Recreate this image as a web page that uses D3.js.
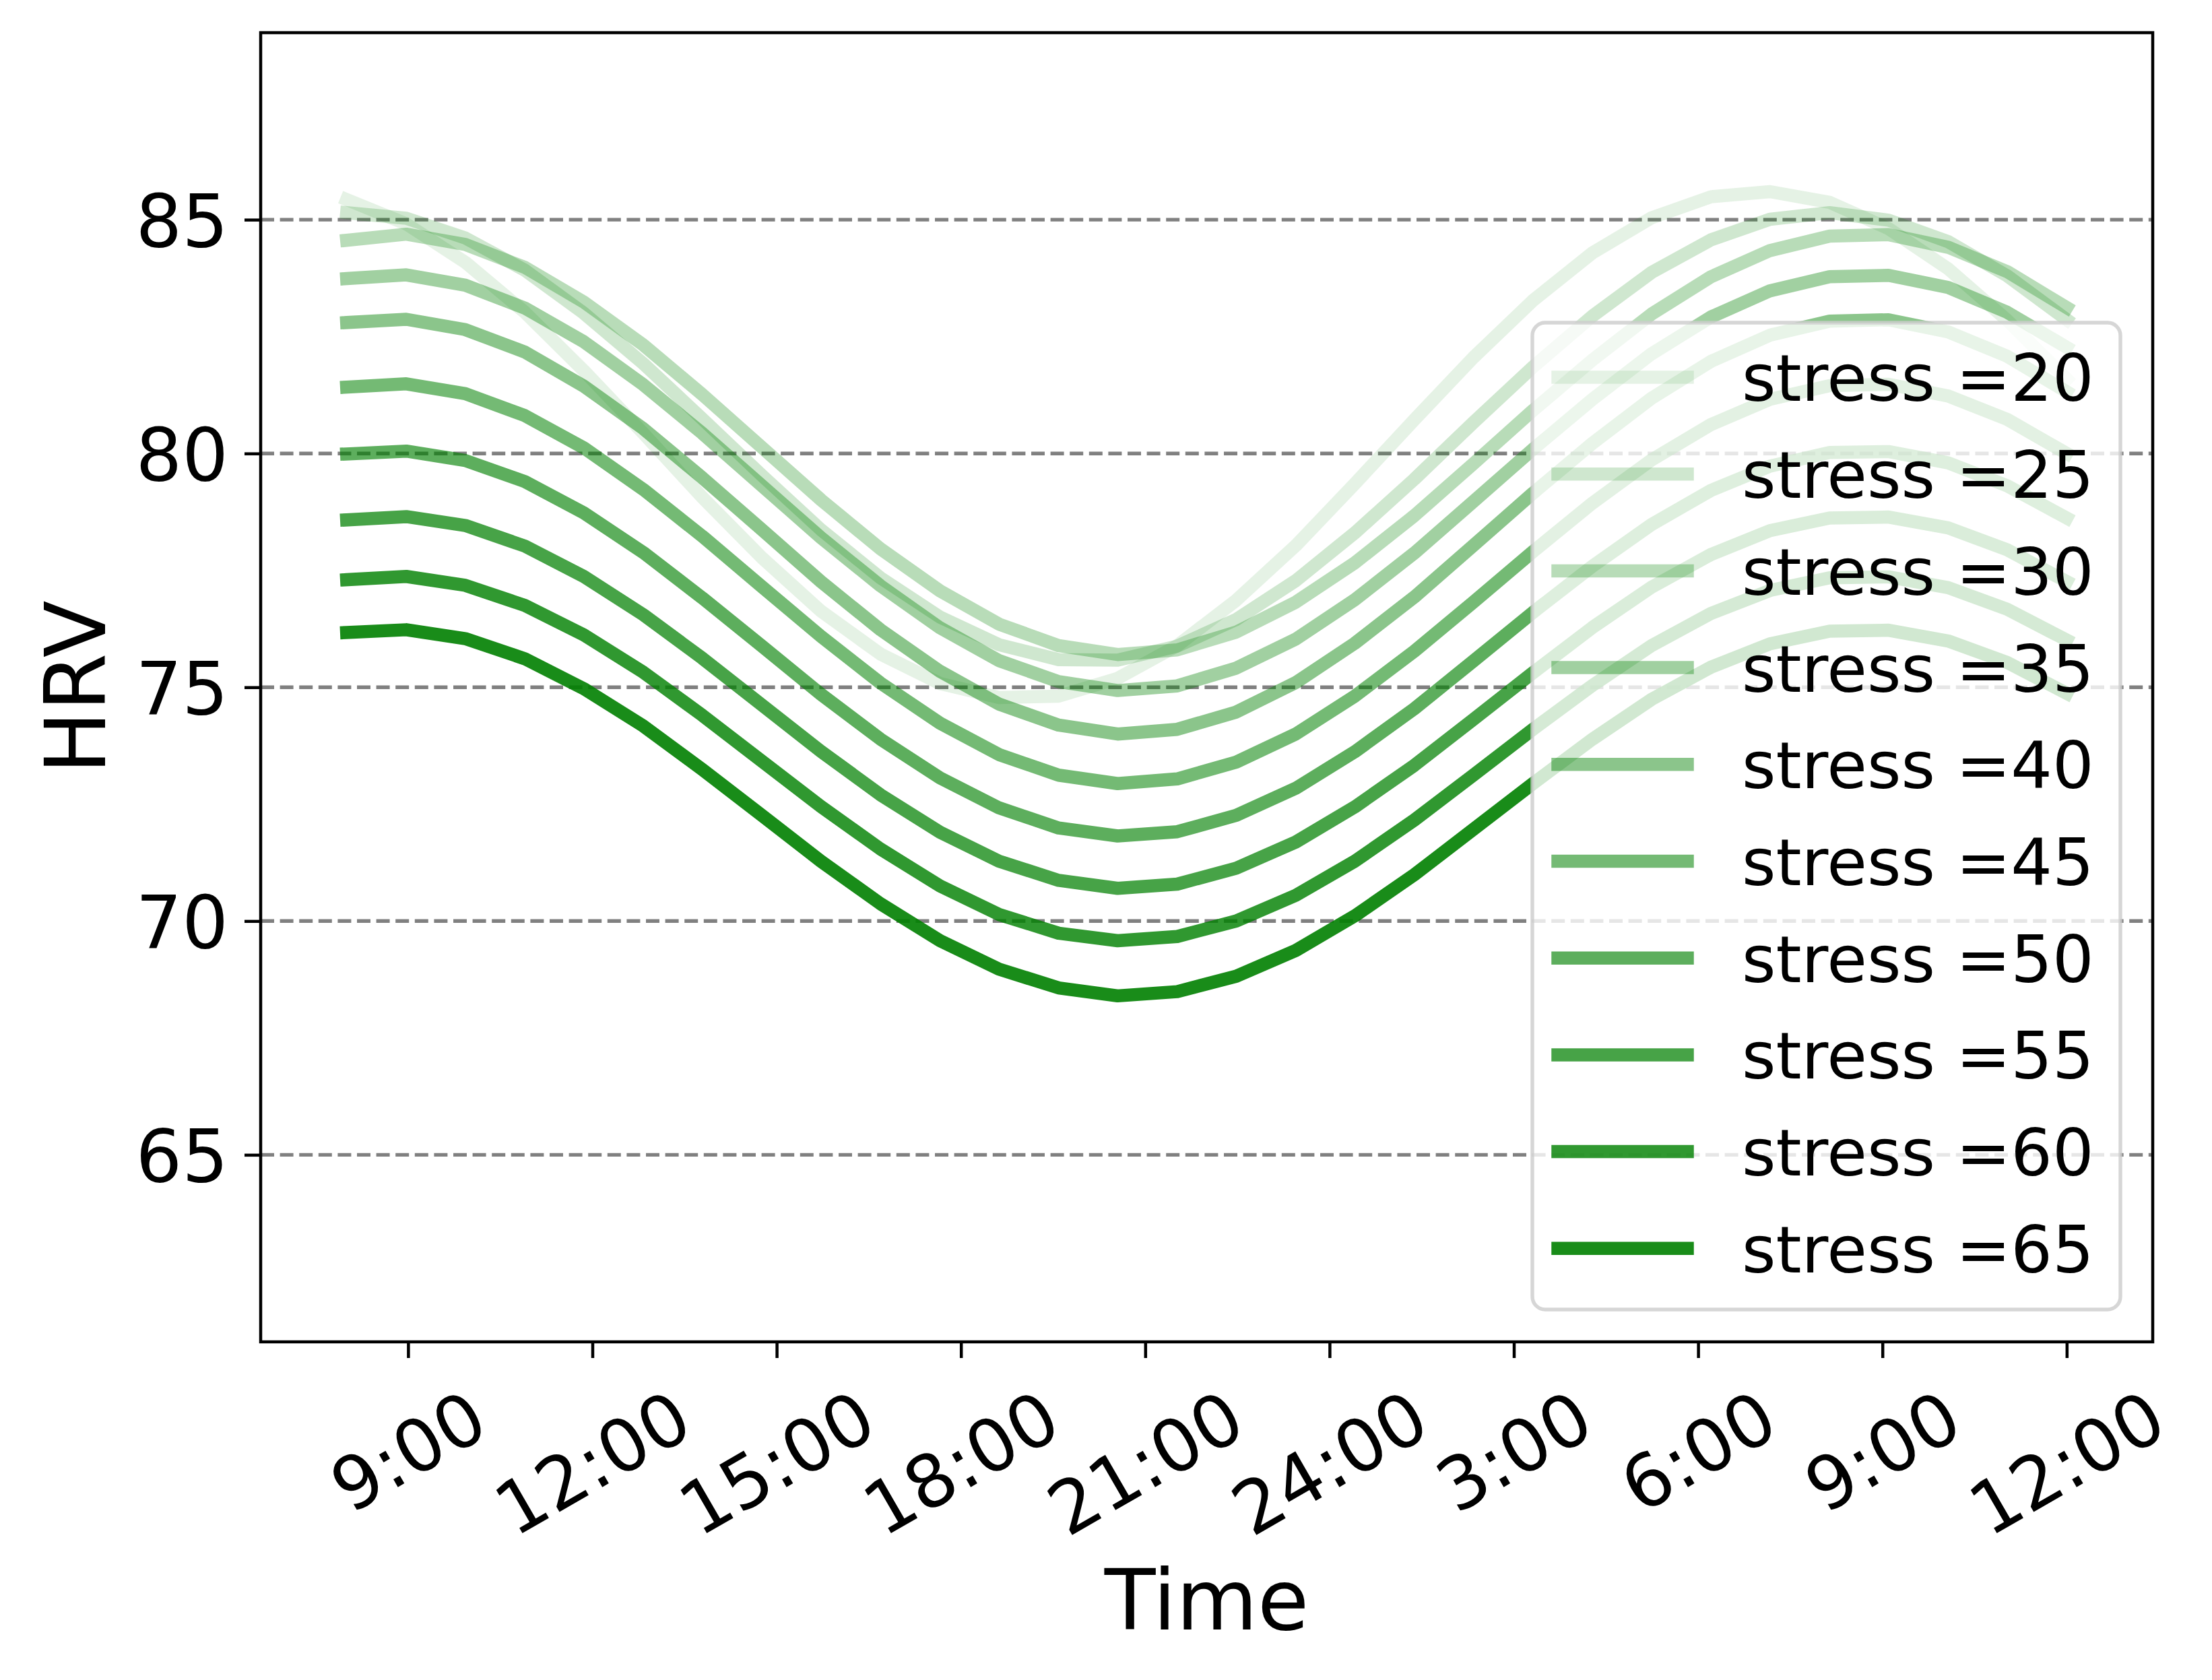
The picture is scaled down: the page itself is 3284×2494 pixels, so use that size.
<!DOCTYPE html>
<html>
<head>
<meta charset="utf-8">
<script src="https://cdn.jsdelivr.net/npm/d3@7"></script>
<style>
html, body { margin: 0; padding: 0; background: #ffffff; }
svg { display: block; font-family: "DejaVu Sans", sans-serif; }
</style>
</head>
<body>
<svg id="chart" width="3284" height="2494"></svg>
<script>
// ---------------- data ----------------
const times = [8.00, 8.97, 9.93, 10.90, 11.86, 12.83, 13.79, 14.76, 15.72, 16.69,
               17.66, 18.62, 19.59, 20.55, 21.52, 22.48, 23.45, 24.41, 25.38, 26.34,
               27.31, 28.28, 29.24, 30.21, 31.17, 32.14, 33.10, 34.07, 35.03, 36.00];

const stressLevels = [20, 25, 30, 35, 40, 45, 50, 55, 60, 65];

const hrv20 = [85.43, 84.91, 84.09, 83.02, 81.77, 80.43, 79.06, 77.77, 76.63, 75.71,
               75.08, 74.78, 74.81, 75.19, 75.89, 76.86, 78.03, 79.35, 80.72, 82.05,
               83.27, 84.29, 85.04, 85.49, 85.60, 85.37, 84.81, 83.95, 82.85, 81.59];
const hrv25 = [85.15, 85.03, 84.61, 83.92, 83.00, 81.92, 80.74, 79.53, 78.37, 77.34,
               76.50, 75.91, 75.59, 75.58, 75.88, 76.45, 77.28, 78.30, 79.45, 80.66,
               81.85, 82.94, 83.87, 84.57, 85.01, 85.15, 84.99, 84.53, 83.80, 82.86];
const hrv30 = [84.56, 84.69, 84.47, 83.98, 83.24, 82.32, 81.26, 80.13, 79.01, 77.96,
               77.06, 76.35, 75.89, 75.70, 75.80, 76.18, 76.82, 77.66, 78.67, 79.78,
               80.92, 82.00, 82.98, 83.78, 84.34, 84.65, 84.68, 84.41, 83.89, 83.12];
const hrv35 = [83.74, 83.82, 83.60, 83.11, 82.39, 81.47, 80.43, 79.31, 78.20, 77.17,
               76.27, 75.57, 75.12, 74.93, 75.03, 75.41, 76.03, 76.87, 77.87, 78.97,
               80.09, 81.16, 82.13, 82.92, 83.48, 83.78, 83.81, 83.55, 83.02, 82.27];
const hrv40 = [82.80, 82.87, 82.65, 82.17, 81.44, 80.53, 79.48, 78.37, 77.26, 76.23,
               75.34, 74.64, 74.19, 74.00, 74.10, 74.47, 75.10, 75.94, 76.93, 78.03,
               79.15, 80.22, 81.18, 81.97, 82.53, 82.83, 82.86, 82.60, 82.08, 81.32];
const hrv45 = [81.42, 81.49, 81.28, 80.81, 80.12, 79.23, 78.23, 77.15, 76.09, 75.09,
               74.23, 73.56, 73.12, 72.94, 73.04, 73.40, 74.00, 74.81, 75.77, 76.82,
               77.90, 78.94, 79.86, 80.62, 81.16, 81.45, 81.48, 81.23, 80.73, 80.00];
const hrv50 = [79.99, 80.05, 79.85, 79.40, 78.73, 77.88, 76.91, 75.88, 74.85, 73.89,
               73.06, 72.42, 71.99, 71.82, 71.91, 72.26, 72.84, 73.62, 74.54, 75.56,
               76.60, 77.59, 78.48, 79.21, 79.73, 80.02, 80.04, 79.80, 79.31, 78.62];
const hrv55 = [78.58, 78.65, 78.46, 78.02, 77.37, 76.55, 75.62, 74.62, 73.63, 72.70,
               71.90, 71.28, 70.87, 70.70, 70.79, 71.13, 71.69, 72.44, 73.33, 74.31,
               75.31, 76.28, 77.14, 77.84, 78.35, 78.62, 78.64, 78.41, 77.94, 77.26];
const hrv60 = [77.30, 77.37, 77.18, 76.75, 76.12, 75.32, 74.40, 73.42, 72.45, 71.54,
               70.75, 70.14, 69.74, 69.58, 69.67, 70.00, 70.55, 71.28, 72.16, 73.12,
               74.10, 75.04, 75.89, 76.58, 77.07, 77.34, 77.36, 77.13, 76.67, 76.01];
const hrv65 = [76.17, 76.23, 76.04, 75.61, 74.97, 74.17, 73.24, 72.26, 71.28, 70.37,
               69.58, 68.97, 68.57, 68.40, 68.49, 68.82, 69.37, 70.11, 70.99, 71.96,
               72.94, 73.89, 74.74, 75.43, 75.93, 76.20, 76.22, 75.99, 75.53, 74.87];

const xTickValues = [9, 12, 15, 18, 21, 24, 27, 30, 33, 36];
const xTickLabels = ["9:00", "12:00", "15:00", "18:00", "21:00", "24:00", "3:00", "6:00", "9:00", "12:00"];
const yTickValues = [65, 70, 75, 80, 85];

const hrvSeries = [hrv20, hrv25, hrv30, hrv35, hrv40, hrv45, hrv50, hrv55, hrv60, hrv65];

// ---------------- layout ----------------
const W = 3284, H = 2494;
const plot = { left: 387, right: 3196, top: 48.5, bottom: 1992 };
const tickFs = 108, legendFs = 97, labelFs = 124;
const lineW = 19.5;

const x = d3.scaleLinear().domain([6.6, 37.4]).range([plot.left, plot.right]);
const y = d3.scaleLinear().domain([61, 89]).range([plot.bottom, plot.top]);
const alpha = d3.scaleLinear().domain([20, 65]).range([0.1, 0.9]);

const svg = d3.select("#chart");
svg.append("rect").attr("width", W).attr("height", H).attr("fill", "#ffffff");

// grid
svg.append("g").selectAll("line").data(yTickValues).join("line")
  .attr("x1", plot.left).attr("x2", plot.right)
  .attr("y1", d => y(d)).attr("y2", d => y(d))
  .attr("stroke", "#808080").attr("stroke-width", 5.4)
  .attr("stroke-dasharray", "20,8.6");

// series lines
const series = stressLevels.map((s, i) => ({ stress: s, values: hrvSeries[i] }));
const line = d3.line().x((d, i) => x(times[i])).y(d => y(d));
svg.append("g").selectAll("path").data(series).join("path")
  .attr("d", d => line(d.values))
  .attr("fill", "none")
  .attr("stroke", "#008000")
  .attr("stroke-opacity", d => alpha(d.stress))
  .attr("stroke-width", lineW)
  .attr("stroke-linejoin", "round")
  .attr("stroke-linecap", "square");

// x axis
const xAxis = d3.axisBottom(x).tickValues(xTickValues)
  .tickFormat((d, i) => xTickLabels[i]).tickSize(24).tickSizeOuter(0);
const gx = svg.append("g").attr("transform", `translate(0,${plot.bottom})`).call(xAxis);
gx.select(".domain").remove();
gx.selectAll(".tick line").attr("stroke", "#000").attr("stroke-width", 4.5);
gx.selectAll(".tick text")
  .attr("font-size", tickFs).attr("font-family", "DejaVu Sans").attr("fill", "#000")
  .attr("text-anchor", "middle").attr("dy", null)
  .each(function () {
    const t = d3.select(this);
    t.attr("y", 0);
    const w = this.getComputedTextLength();
    const h = 1.164 * tickFs;
    const bh = w * Math.sin(Math.PI / 6) + h * Math.cos(Math.PI / 6);
    const cy = 24 + 24 + bh / 2;
    t.attr("transform", `translate(0,${cy}) rotate(-30)`).attr("y", 0.35 * tickFs);
  });

// y axis
const yAxis = d3.axisLeft(y).tickValues(yTickValues).tickSize(24).tickPadding(24).tickSizeOuter(0);
const gy = svg.append("g").attr("transform", `translate(${plot.left},0)`).call(yAxis);
gy.select(".domain").remove();
gy.selectAll(".tick line").attr("stroke", "#000").attr("stroke-width", 4.5);
gy.selectAll(".tick text")
  .attr("font-size", tickFs).attr("font-family", "DejaVu Sans").attr("fill", "#000")
  .attr("dy", "0.36em");

// spines
svg.append("rect")
  .attr("x", plot.left).attr("y", plot.top)
  .attr("width", plot.right - plot.left).attr("height", plot.bottom - plot.top)
  .attr("fill", "none").attr("stroke", "#000").attr("stroke-width", 4.5);

// axis labels
svg.append("text").text("Time")
  .attr("x", (plot.left + plot.right) / 2).attr("y", 2419)
  .attr("text-anchor", "middle").attr("font-size", labelFs).attr("fill", "#000");
svg.append("text").text("HRV")
  .attr("transform", `translate(156,${(plot.top + plot.bottom) / 2}) rotate(-90)`)
  .attr("text-anchor", "middle").attr("font-size", labelFs).attr("fill", "#000");

// legend
const leg = { x: 2275, y: 479, w: 873, h: 1465, firstRow: 560, rowStep: 143.7 };
const gl = svg.append("g");
gl.append("rect")
  .attr("x", leg.x).attr("y", leg.y).attr("width", leg.w).attr("height", leg.h)
  .attr("rx", 19).attr("ry", 19)
  .attr("fill", "#ffffff").attr("fill-opacity", 0.8)
  .attr("stroke", "#cccccc").attr("stroke-opacity", 0.8).attr("stroke-width", 5.4);
const rows = gl.selectAll("g.row").data(series).join("g").attr("class", "row")
  .attr("transform", (d, i) => `translate(0,${leg.firstRow + i * leg.rowStep})`);
rows.append("line")
  .attr("x1", 2313).attr("x2", 2505).attr("y1", 0).attr("y2", 0)
  .attr("stroke", "#008000").attr("stroke-opacity", d => alpha(d.stress))
  .attr("stroke-width", lineW).attr("stroke-linecap", "square");
rows.append("text")
  .attr("x", 2586).attr("y", 0.365 * legendFs)
  .attr("font-size", legendFs).attr("fill", "#000")
  .text(d => "stress =" + d.stress);
</script>
</body>
</html>
